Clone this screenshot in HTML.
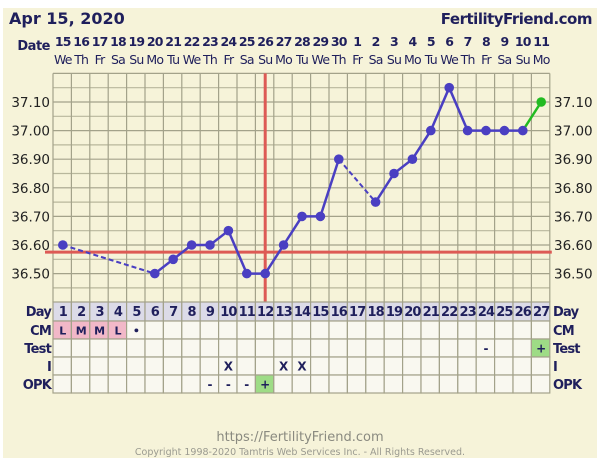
<!DOCTYPE html>
<html><head><meta charset="utf-8"><style>
html,body{margin:0;padding:0;background:#fff;width:600px;height:465px;overflow:hidden}
svg{display:block}
text{font-family:"DejaVu Sans","Liberation Sans",sans-serif}
</style></head><body>
<svg id="s" width="600" height="465" xmlns="http://www.w3.org/2000/svg">
<rect x="3" y="8" width="594" height="450" fill="#f6f3d9"/>
</svg>
<script>
(function(){
const s=document.getElementById('s');const NS='http://www.w3.org/2000/svg';
function el(t,a,txt){const e=document.createElementNS(NS,t);for(const k in a)e.setAttribute(k,a[k]);if(txt!==undefined)e.textContent=txt;s.appendChild(e);return e;}
const X0=53,W=18.4,cx=d=>X0+W*(d-0.5)+0.6;
const Y=v=>273.6-(v-36.5)*286;
const navy='#1f1f5c';
el('text',{x:9,y:24,'font-size':16,'font-weight':'bold',fill:navy},'Apr 15, 2020');
el('text',{x:592,y:24,'font-size':15,'font-weight':'bold',fill:navy,'text-anchor':'end','letter-spacing':'-0.5'},'FertilityFriend.com');
el('text',{x:50,y:50,'font-size':13,'font-weight':'bold',fill:navy,'text-anchor':'end','letter-spacing':'-0.5'},'Date');
const dates=[15,16,17,18,19,20,21,22,23,24,25,26,27,28,29,30,1,2,3,4,5,6,7,8,9,10,11];
const wd=['We','Th','Fr','Sa','Su','Mo','Tu'];
for(let i=0;i<27;i++){const d=i+1;
el('text',{x:cx(d),y:46,'font-size':12.5,'font-weight':'bold',fill:navy,'text-anchor':'middle','letter-spacing':'-0.8'},dates[i]);
el('text',{x:cx(d),y:64,'font-size':12.5,fill:navy,'text-anchor':'middle','letter-spacing':'-0.8'},wd[i%7]);}
const gTop=Y(37.2),gBot=Y(36.4);
for(let k=0;k<=16;k++){const y=gTop+k*(gBot-gTop)/16;el('line',{x1:X0,x2:X0+27*W,y1:y,y2:y,stroke:k%2?'#b8b79c':'#a3a28a','stroke-width':1.2});}
for(let k=0;k<=27;k++){const x=X0+k*W;el('line',{x1:x,x2:x,y1:gTop,y2:gBot,stroke:'#a3a28a','stroke-width':1.2});}
for(let i=0;i<7;i++){const v=36.5+i*0.1;const y=Y(v)+5;
el('text',{x:50,y:y,'font-size':13.5,fill:'#222','text-anchor':'end'},v.toFixed(2));
el('text',{x:554,y:y,'font-size':13.5,fill:'#222'},v.toFixed(2));}
el('line',{x1:X0-8,x2:X0+27*W+2,y1:Y(36.575),y2:Y(36.575),stroke:'#dd5a55','stroke-width':3});
el('line',{x1:cx(12),x2:cx(12),y1:gTop,y2:gBot,stroke:'#dd5a55','stroke-width':3});
const data={1:36.6,6:36.5,7:36.55,8:36.6,9:36.6,10:36.65,11:36.5,12:36.5,13:36.6,14:36.7,15:36.7,16:36.9,18:36.75,19:36.85,20:36.9,21:37.0,22:37.15,23:37.0,24:37.0,25:37.0,26:37.0};
const blue='#4a3fc2';
el('line',{x1:cx(1),y1:Y(36.6),x2:cx(6),y2:Y(36.5),stroke:blue,'stroke-width':2,'stroke-dasharray':'5,3'});
el('line',{x1:cx(16),y1:Y(36.9),x2:cx(18),y2:Y(36.75),stroke:blue,'stroke-width':2,'stroke-dasharray':'5,3'});
const seg1=[6,7,8,9,10,11,12,13,14,15,16].map(d=>cx(d)+','+Y(data[d])).join(' ');
const seg2=[18,19,20,21,22,23,24,25,26].map(d=>cx(d)+','+Y(data[d])).join(' ');
el('polyline',{points:seg1,fill:'none',stroke:blue,'stroke-width':2.5});
el('polyline',{points:seg2,fill:'none',stroke:blue,'stroke-width':2.5});
el('line',{x1:cx(26),y1:Y(37),x2:cx(27),y2:Y(37.1),stroke:'#22bb22','stroke-width':2.5});
for(const d in data)el('circle',{cx:cx(+d),cy:Y(data[d]),r:4.8,fill:blue});
el('circle',{cx:cx(27),cy:Y(37.1),r:4.8,fill:'#22bb22'});
const rows=[302,321,339,357,375,393];
const labels=['Day','CM','Test','I','OPK'];
for(let r=0;r<5;r++){
 for(let d=1;d<=27;d++){let f=r==0?'#dcdbe8':'#f9f8f0';
  if(r==1&&d<=4)f='#f2b8c8';
  if(r==4&&d==12)f='#9edc86';
  if(r==2&&d==27)f='#9edc86';
  el('rect',{x:X0+(d-1)*W,y:rows[r],width:W,height:rows[r+1]-rows[r],fill:f,stroke:'#a3a28a','stroke-width':1.2});}
 const yy=rows[r]+14;
 el('text',{x:51,y:yy,'font-size':13,'font-weight':'bold',fill:navy,'text-anchor':'end','letter-spacing':'-0.8'},labels[r]);
 el('text',{x:553,y:yy,'font-size':13,'font-weight':'bold',fill:navy,'letter-spacing':'-0.8'},labels[r]);}
for(let d=1;d<=27;d++)el('text',{x:cx(d),y:rows[0]+14,'font-size':13,'font-weight':'bold',fill:navy,'text-anchor':'middle','letter-spacing':'-0.9'},d);
const put=(d,r,t,sz)=>el('text',{x:cx(d),y:rows[r]+13.5,'font-size':sz||12,'font-weight':'bold',fill:navy,'text-anchor':'middle'},t);
['L','M','M','L'].forEach((t,i)=>put(i+1,1,t,11));
put(5,1,'•',11);
put(24,2,'-');put(27,2,'+');
put(10,3,'X');put(13,3,'X');put(14,3,'X');
put(9,4,'-');put(10,4,'-');put(11,4,'-');put(12,4,'+');
el('text',{x:300,y:441,'font-size':13,fill:'#8a8a80','text-anchor':'middle'},'https://FertilityFriend.com');
el('text',{x:300,y:455,'font-size':9.5,fill:'#9a9a90','text-anchor':'middle'},'Copyright 1998-2020 Tamtris Web Services Inc. - All Rights Reserved.');
})();
</script>
</body></html>
